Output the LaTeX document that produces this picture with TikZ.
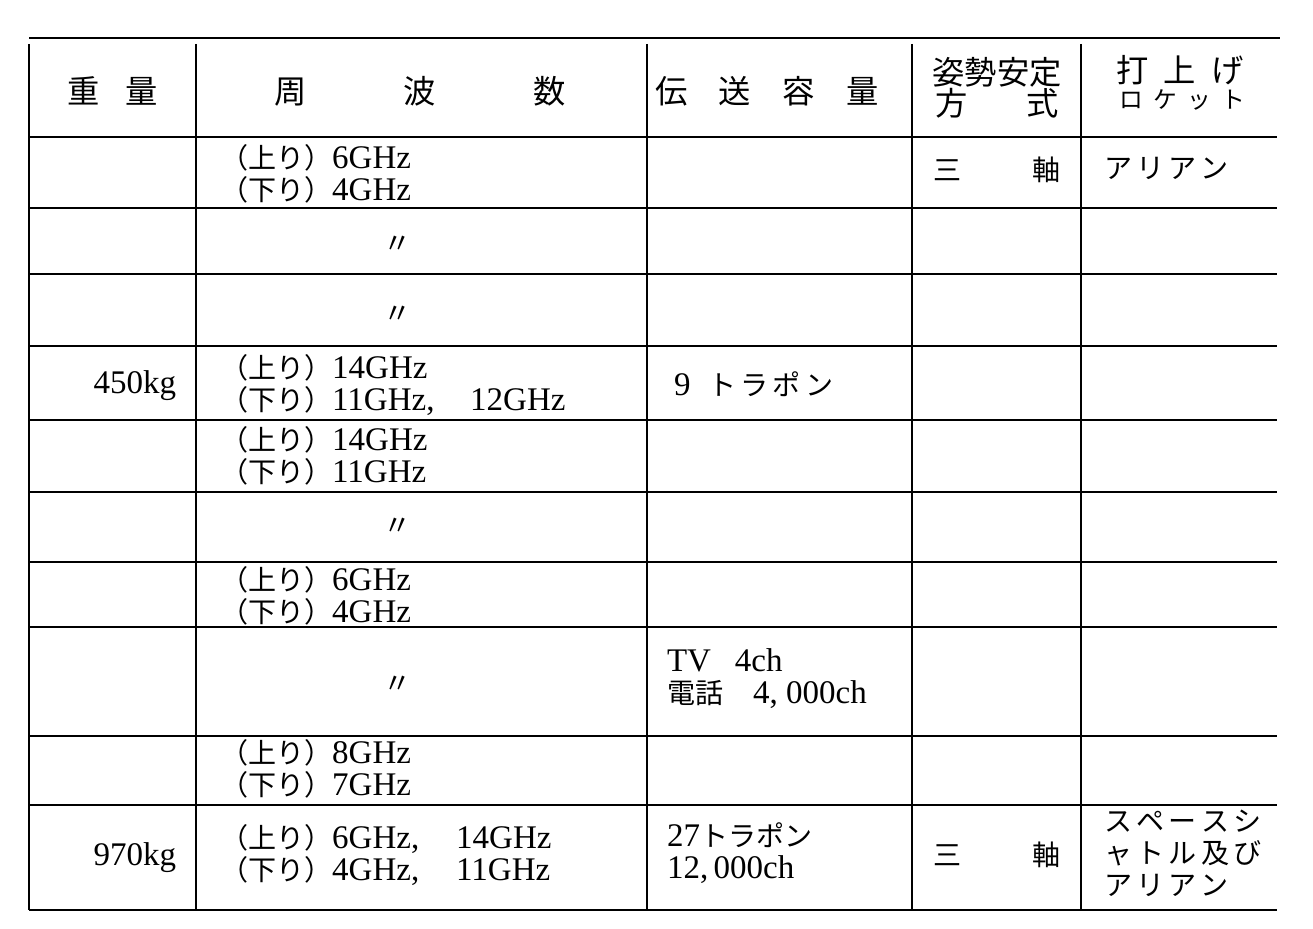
\documentclass[tikz,border=0pt]{standalone}
\usepackage{fontspec}
\setmainfont{Liberation Serif}
\newfontfamily\jp{Noto Sans CJK JP}[Scale=0.85]
\newcommand{\spread}[2]{\makebox[#1][s]{#2}}
\newcommand{\firstband}[2]{\makebox[#1][l]{#2}}

\begin{document}
\begin{tikzpicture}[x=0.5pt,y=-0.5pt,
	rule/.style={line width=1.1pt},
	cell/.style={inner sep=0,outer sep=0,font=\fontsize{16.5}{16}\selectfont},
	head/.style={inner sep=0,outer sep=0,font=\fontsize{19}{15.5}\selectfont\jp,align=center},
	lft/.style={cell,anchor=west,align=left},
	rgt/.style={cell,anchor=east}]
	\useasboundingbox (0,0) rectangle (1313,929);
	\fill[white] (0,0) rectangle (1313,929);
	\coordinate (tl) at (29,38);
	\coordinate (tr) at (1280,38);
	\draw[rule] (tl) -- (tr);
	\foreach \y in {137,208,274,346,420,492,562,627,736,805,910}
		\draw[rule] (29,\y) -- (1277,\y);
	\foreach \x in {29,196,647,912,1081}
		\draw[rule] (\x,44) -- (\x,910);
	\node[head] (hw) at (113,91) {\spread{45pt}{重 量}};
	\node[head] (hf) at (420,91) {\spread{146pt}{周 波 数}};
	\node[head] (hc) at (767,91) {\spread{112pt}{伝 送 容 量}};
	\node[head] (ha) at (997,88) {姿勢安定\\\spread{62pt}{方 式}};
	\node[head] (hr1) at (1180,70) {\spread{64pt}{打 上 げ}};
	\node[head,font=\fontsize{14}{14}\selectfont\jp] (hr2) at (1182,100) {\spread{63pt}{ロ ケ ッ ト}};
	\node[lft] (f1) at (220,174) {{\jp （上り）}6GHz\\{\jp （下り）}4GHz};
	\node[cell] (f2) at (398,245) {\jp 〃};
	\node[cell] (f3) at (398,315) {\jp 〃};
	\node[lft] (f4) at (220,385) {{\jp （上り）}14GHz\\{\jp （下り）}\firstband{69pt}{11GHz,}12GHz};
	\node[lft] (f5) at (220,456) {{\jp （上り）}14GHz\\{\jp （下り）}11GHz};
	\node[cell] (f6) at (398,527) {\jp 〃};
	\node[lft] (f7) at (220,596) {{\jp （上り）}6GHz\\{\jp （下り）}4GHz};
	\node[cell] (f8) at (398,685) {\jp 〃};
	\node[lft] (f9) at (220,769) {{\jp （上り）}8GHz\\{\jp （下り）}7GHz};
	\node[lft] (f10) at (220,855) {{\jp （上り）}\firstband{62pt}{6GHz,}14GHz\\{\jp （下り）}\firstband{62pt}{4GHz,}11GHz};
	\node[rgt] (w4) at (176,386) {450kg};
	\node[rgt] (w10) at (176,858) {970kg};
	\node[lft] (c4) at (674,384) {9\hspace{9pt}{\jp\spread{60pt}{ト ラ ポ ン}}};
	\node[lft] (c8) at (667,679) {TV\hspace{12pt}4ch\\{\jp 電話}\hspace{15pt}4,\ 000ch};
	\node[lft] (c10) at (667,853) {27{\jp トラポン}\\12,\,000ch};
	\node[cell] (a1) at (997,170) {\jp\spread{64pt}{三 軸}};
	\node[cell] (a10) at (997,855) {\jp\spread{64pt}{三 軸}};
	\node[lft] (r1) at (1104,168) {\jp\spread{62pt}{ア リ ア ン}};
	\node[lft,font=\fontsize{16.5}{16}\selectfont\jp] (r10) at (1104,853) {\spread{79pt}{ス ペ ー ス シ}\\\spread{79pt}{ャ ト ル 及 び}\\\spread{62pt}{ア リ ア ン}};
\end{tikzpicture}
\end{document}
